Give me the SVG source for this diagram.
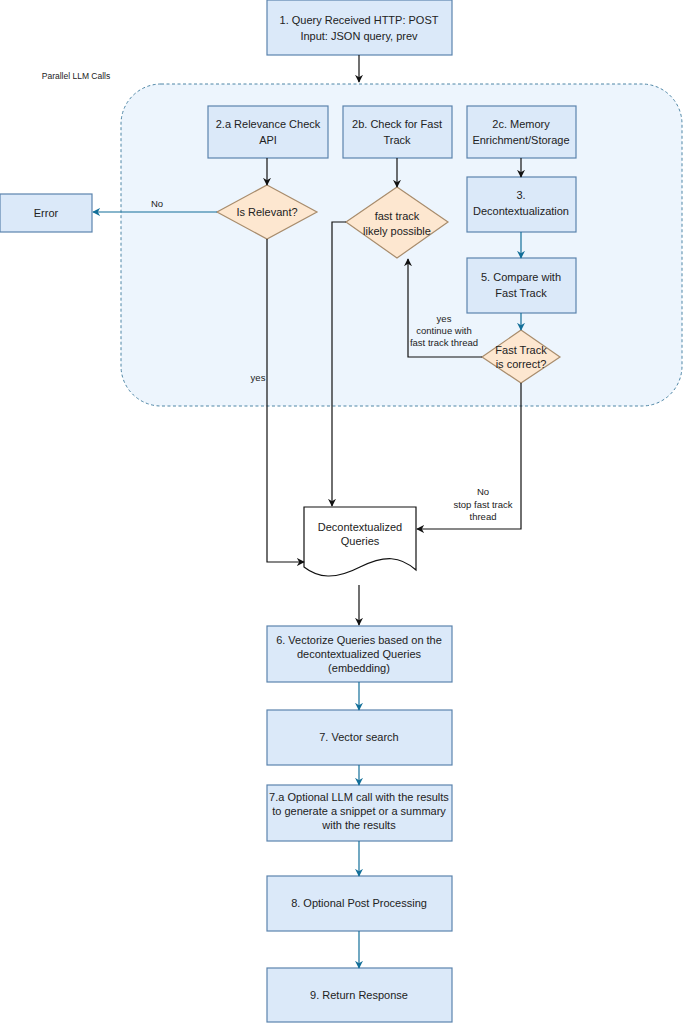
<svg xmlns="http://www.w3.org/2000/svg" width="683" height="1024" viewBox="0 0 683 1024">
<style>
text{font-family:"Liberation Sans",Arial,sans-serif;font-size:11px;fill:#222;text-anchor:middle}
.box{fill:#dbe9f9;stroke:#5b84ad;stroke-width:1.2}
.dia{fill:#fde7d0;stroke:#a88c6c;stroke-width:1.2}
.lbl{font-size:9.5px}
.k{fill:none;stroke:#111;stroke-width:1.2}
.b{fill:none;stroke:#136f99;stroke-width:1.2}
</style>
<defs>
<marker id="ak" viewBox="0 0 10 10" refX="9" refY="5" markerWidth="8" markerHeight="8" markerUnits="userSpaceOnUse" orient="auto"><path d="M0,0 L10,5 L0,10 L3,5 Z" fill="#111"/></marker>
<marker id="ab" viewBox="0 0 10 10" refX="9" refY="5" markerWidth="8" markerHeight="8" markerUnits="userSpaceOnUse" orient="auto"><path d="M0,0 L10,5 L0,10 L3,5 Z" fill="#136f99"/></marker>
</defs>
<rect width="683" height="1024" fill="#ffffff"/>
<g id="container">
<rect x="121" y="84" width="561" height="322" rx="40" ry="40" fill="#edf5fd" stroke="#4e86a6" stroke-width="1" stroke-dasharray="3,2.5"/>
<text x="76" y="79" style="font-size:8.5px">Parallel LLM Calls</text>
</g>
<g id="n1"><rect class="box" x="267" y="0" width="185" height="55"/><text x="359" y="24">1. Query Received HTTP: POST</text><text x="359" y="40">Input: JSON query, prev</text></g>
<g id="n2a"><rect class="box" x="208" y="106" width="120" height="52"/><text x="268" y="128">2.a Relevance Check</text><text x="268" y="144">API</text></g>
<g id="n2b"><rect class="box" x="343" y="106" width="109" height="52"/><text x="397" y="128">2b. Check for Fast</text><text x="397" y="144">Track</text></g>
<g id="n2c"><rect class="box" x="467" y="106" width="109" height="52"/><text x="521" y="128">2c. Memory</text><text x="521" y="144">Enrichment/Storage</text></g>
<g id="dRel"><polygon class="dia" points="267,185 317,212 267,239 217,212"/><text x="267" y="216">Is Relevant?</text></g>
<g id="err"><rect class="box" x="0" y="194" width="92" height="38"/><text x="46" y="217">Error</text></g>
<g id="dFast"><polygon class="dia" points="397,187 448,222 397,258 346,222"/><text x="397" y="220">fast track</text><text x="397" y="235">likely possible</text></g>
<g id="n3"><rect class="box" x="467" y="177" width="109" height="55"/><text x="521" y="199">3.</text><text x="521" y="215">Decontextualization</text></g>
<g id="n5"><rect class="box" x="467" y="258" width="109" height="55"/><text x="521" y="281">5. Compare with</text><text x="521" y="297">Fast Track</text></g>
<g id="dOk"><polygon class="dia" points="521,330 560,357 521,383 482,357"/><text x="521" y="354">Fast Track</text><text x="521" y="368">is correct?</text></g>
<g id="doc"><path d="M304,507 H416 V570 C400,556 385,555 360,567 C335,580 318,578 304,567 Z" fill="#ffffff" stroke="#111" stroke-width="1.2"/><text x="360" y="531">Decontextualized</text><text x="360" y="545">Queries</text></g>
<g id="n6"><rect class="box" x="267" y="626" width="185" height="56"/><text x="359" y="644">6. Vectorize Queries based on the</text><text x="359" y="658">decontextualized Queries</text><text x="359" y="672">(embedding)</text></g>
<g id="n7"><rect class="box" x="267" y="710" width="185" height="55"/><text x="359" y="741">7. Vector search</text></g>
<g id="n7a"><rect class="box" x="267" y="785" width="185" height="56"/><text x="359" y="801">7.a Optional LLM call with the results</text><text x="359" y="815">to generate a snippet or a summary</text><text x="359" y="829">with the results</text></g>
<g id="n8"><rect class="box" x="267" y="876" width="185" height="55"/><text x="359" y="907">8. Optional Post Processing</text></g>
<g id="n9"><rect class="box" x="267" y="968" width="185" height="54"/><text x="359" y="999">9. Return Response</text></g>
<g id="connectors">
<path class="k" d="M359,55 V82" marker-end="url(#ak)"/>
<path class="k" d="M267,158 V185" marker-end="url(#ak)"/>
<path class="k" d="M397,158 V187" marker-end="url(#ak)"/>
<path class="k" d="M521,158 V177" marker-end="url(#ak)"/>
<path class="b" d="M217,212 H93" marker-end="url(#ab)"/>
<text class="lbl" x="157" y="207">No</text>
<path class="b" d="M521,232 V258" marker-end="url(#ab)"/>
<path class="b" d="M521,313 V330" marker-end="url(#ab)"/>
<path class="k" d="M482,357 H408 V259" marker-end="url(#ak)"/>
<text class="lbl" x="444" y="322">yes</text>
<text class="lbl" x="444" y="334">continue with</text>
<text class="lbl" x="444" y="346">fast track thread</text>
<path class="k" d="M346,222 H332 V506" marker-end="url(#ak)"/>
<path class="k" d="M267,239 V562 H304" marker-end="url(#ak)"/>
<text class="lbl" x="258" y="381">yes</text>
<path class="k" d="M521,383 V529 H417" marker-end="url(#ak)"/>
<text class="lbl" x="483" y="495">No</text>
<text class="lbl" x="483" y="508">stop fast track</text>
<text class="lbl" x="483" y="520">thread</text>
<path class="k" d="M359,585 V625" marker-end="url(#ak)"/>
<path class="b" d="M359,682 V710" marker-end="url(#ab)"/>
<path class="b" d="M359,765 V785" marker-end="url(#ab)"/>
<path class="b" d="M359,841 V876" marker-end="url(#ab)"/>
<path class="b" d="M359,931 V968" marker-end="url(#ab)"/>
</g>
</svg>
